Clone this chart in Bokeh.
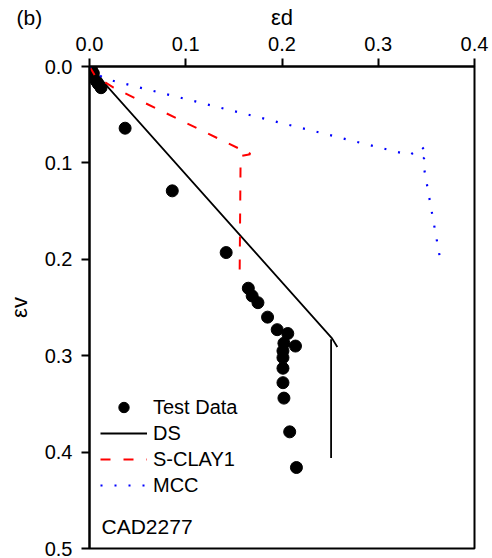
import math
from bokeh.plotting import figure
from bokeh.models import (Range1d, FixedTicker, CustomJSTickFormatter,
                          Legend, LegendItem, Label)
from bokeh.embed import file_html
from bokeh.resources import INLINE

# ---------------- data ----------------
x_ticks = [0.0, 0.1, 0.2, 0.3, 0.4]
x_tick_labels = ["0.0", "0.1", "0.2", "0.3", "0.4"]
y_ticks = [0.0, 0.1, 0.2, 0.3, 0.4, 0.5]
y_tick_labels = ["0.0", "0.1", "0.2", "0.3", "0.4", "0.5"]

test_ed = [0.002, 0.004, 0.007, 0.009, 0.012, 0.037, 0.086, 0.142, 0.165, 0.169,
           0.175, 0.185, 0.195, 0.206, 0.202, 0.214, 0.201, 0.201, 0.201, 0.201,
           0.202, 0.208, 0.215]
test_ev = [0.003, 0.007, 0.015, 0.018, 0.022, 0.064, 0.129, 0.193, 0.230, 0.238,
           0.245, 0.260, 0.273, 0.277, 0.287, 0.290, 0.295, 0.302, 0.313, 0.328,
           0.344, 0.379, 0.416]

ds_ed = [0.0, 0.252, 0.2575]
ds_ev = [0.0, 0.282, 0.291]
ds_tail_ed = [0.251, 0.251]
ds_tail_ev = [0.283, 0.406]

sclay_ed = [0.0, 0.006, 0.025, 0.155, 0.163, 0.167, 0.157, 0.156]
sclay_ev = [0.0, 0.010, 0.022, 0.085, 0.086, 0.091, 0.093, 0.215]

mcc_ed = [0.0, 0.004, 0.015, 0.333, 0.345, 0.352, 0.346, 0.364]
mcc_ev = [0.0, 0.004, 0.0125, 0.092, 0.083, 0.091, 0.0965, 0.198]

FONT = "Liberation Sans"

p = figure(width=492, height=558, output_backend="svg", toolbar_location=None,
           x_range=Range1d(0, 0.4), y_range=Range1d(0.5, 0.0),
           x_axis_location="above", min_border_left=89, min_border_top=66,
           min_border_right=18, min_border_bottom=10)
p.grid.visible = False
p.background_fill_color = "white"
p.border_fill_color = "white"
p.outline_line_color = "black"
p.outline_line_width = 2
p.outline_line_alpha = 1

# panel label "(b)" as the plot title, drawn over the top margin
p.title.text = "(b)"
p.title.text_font = FONT
p.title.text_font_size = "21px"
p.title.text_font_style = "normal"
p.title.text_color = "black"
p.title.align = "left"
p.title.vertical_align = "bottom"
p.title.standoff = -54
p.title.offset = -73

JS = "var i=0,b=1e9;for(var k=0;k<t.length;k++){var d=Math.abs(t[k]-tick);if(d<b){b=d;i=k;}}return l[i];"
xfmt = CustomJSTickFormatter(args=dict(t=x_ticks, l=x_tick_labels), code=JS)
yfmt = CustomJSTickFormatter(args=dict(t=y_ticks, l=y_tick_labels), code=JS)

for ax, tk, fm in ((p.xaxis[0], x_ticks, xfmt), (p.yaxis[0], y_ticks, yfmt)):
    ax.ticker = FixedTicker(ticks=tk)
    ax.formatter = fm
    ax.major_label_text_font = FONT
    ax.major_label_text_font_size = "20px"
    ax.major_label_text_color = "black"
    ax.major_tick_out = 8
    ax.major_tick_in = 0
    ax.major_tick_line_width = 2
    ax.major_tick_line_color = "black"
    ax.minor_tick_line_color = None
    ax.axis_line_width = 2
    ax.axis_line_color = "black"
    ax.axis_label_text_font = FONT
    ax.axis_label_text_font_style = "normal"
    ax.axis_label_text_color = "black"
    ax.axis_label_text_font_size = "22px"

p.xaxis[0].major_label_standoff = 8
p.yaxis[0].major_label_standoff = 9
p.xaxis[0].axis_label = "εd"
p.yaxis[0].axis_label = "εv"
p.xaxis[0].axis_label_standoff = 4
p.yaxis[0].axis_label_standoff = 10

# ---------------- series ----------------
r_test = p.scatter(test_ed, test_ev, size=12, color="black", marker="circle")
r_ds = p.line(ds_ed, ds_ev, line_color="black", line_width=1.8)
p.line(ds_tail_ed, ds_tail_ev, line_color="black", line_width=1.8)
r_sc = p.line(sclay_ed, sclay_ev, line_color="#ff0000", line_width=2, line_dash="10 13")
r_mcc = p.line(mcc_ed, mcc_ev, line_color="#0000ff", line_width=2.2, line_dash="2 12")

legend = Legend(items=[
    LegendItem(label="Test Data", renderers=[r_test]),
    LegendItem(label="DS", renderers=[r_ds]),
    LegendItem(label="S-CLAY1", renderers=[r_sc]),
    LegendItem(label="MCC", renderers=[r_mcc]),
], location=(11, 50), padding=0, margin=0, spacing=0,
   label_height=26, glyph_height=26, glyph_width=47, label_standoff=6,
   label_text_font=FONT, label_text_font_size="20px", label_text_color="black",
   background_fill_alpha=0, border_line_alpha=0)
p.add_layout(legend)

# ---------------- text ----------------
p.add_layout(Label(x=(101 - 89) / 962.5, y=(526 - 66) / 964.0, text="CAD2277",
                   text_font=FONT, text_font_size="21px", text_color="black",
                   text_align="left", text_baseline="alphabetic"))

open("out.html", "w").write(file_html(p, INLINE))
